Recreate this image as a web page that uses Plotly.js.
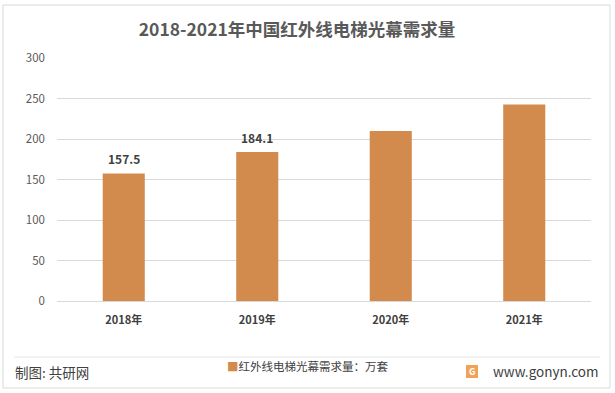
<!DOCTYPE html>
<html><head><meta charset="utf-8">
<script src="https://cdn.plot.ly/plotly-3.0.1.min.js"></script>
<style>html,body{margin:0;padding:0;background:#fff;}#chart{width:615px;height:393px;}</style>
</head><body><div id="chart"></div>
<script>
const categories = ['2018年', '2019年', '2020年', '2021年'];
const demand = [157.5, 184.1, 210.0, 242.5];
const labelShown = [true, true, false, false];
const seriesName = '红外线电梯光幕需求量：万套';
const yTicks = [0, 50, 100, 150, 200, 250, 300];

const FONT = '"Noto Sans CJK SC", "Liberation Sans", sans-serif';
const BAR = '#D38B4D';
const trace = {
  type: 'bar', x: categories, y: demand, name: seriesName,
  marker: {color: BAR}, hoverinfo: 'none'
};
const px = (v) => (v - 57) / 534;   // horizontal pixel -> paper
const py = (v) => (301 - v) / 243;  // vertical pixel -> paper

const dataLabels = categories.map((c, i) => labelShown[i] ? {
  text: '<b>' + demand[i].toFixed(1) + '</b>', xref: 'x', yref: 'y', x: c, y: demand[i],
  xanchor: 'center', yanchor: 'bottom', yshift: 4, showarrow: false,
  font: {family: FONT, size: 12, color: '#404040'}
} : null).filter(a => a);

const layout = {
  width: 615, height: 393,
  margin: {l: 57, r: 24, t: 58, b: 92},
  paper_bgcolor: '#fff', plot_bgcolor: '#fff',
  font: {family: FONT, color: '#595959'},
  title: {text: '<b>2018-2021年中国红外线电梯光幕需求量</b>', x: 0.483, xanchor: 'center', y: 0.925, yanchor: 'middle',
    font: {family: FONT, size: 17.5, color: '#595959'}},
  bargap: 0.685,
  xaxis: {type: 'category', showgrid: false, zeroline: false, showline: false, ticks: '',
    tickfont: {family: FONT, size: 11, color: '#404040'}, ticklabelstandoff: 11,
    tickvals: categories, ticktext: categories.map(c => '<b>' + c + '</b>')},
  yaxis: {range: [0, 300], tickvals: yTicks, showgrid: true, gridcolor: '#D9D9D9', gridwidth: 1,
    zeroline: true, zerolinecolor: '#D9D9D9', showline: false, ticks: '',
    tickfont: {family: FONT, size: 11.5, color: '#595959'}, ticklabelstandoff: 11},
  showlegend: false,
  shapes: [
    {type: 'rect', xref: 'paper', yref: 'paper', x0: px(3), x1: px(610), y0: py(388), y1: py(5),
      line: {color: '#D9D9D9', width: 1}, fillcolor: 'rgba(0,0,0,0)'},
    {type: 'line', xref: 'paper', yref: 'paper', x0: px(14), x1: px(600), y0: py(357), y1: py(357),
      line: {color: '#E6E6E6', width: 1}},
    {type: 'rect', xref: 'paper', yref: 'paper', x0: px(466), x1: px(478), y0: py(378), y1: py(365),
      line: {width: 0}, fillcolor: '#F2A256'}
  ],
  annotations: dataLabels.concat([
    {text: '<span style="color:' + BAR + '">■</span>' + seriesName, xref: 'paper', yref: 'paper', x: px(225), y: py(366),
      xanchor: 'left', yanchor: 'middle', showarrow: false, font: {family: FONT, size: 11.5, color: '#404040'}},
    {text: '制图: 共研网', xref: 'paper', yref: 'paper', x: px(13), y: py(372), xanchor: 'left', yanchor: 'middle',
      showarrow: false, font: {family: FONT, size: 13.5, color: '#404040'}},
    {text: '<b>G</b>', xref: 'paper', yref: 'paper', x: px(472), y: py(371.5), xanchor: 'center', yanchor: 'middle',
      showarrow: false, font: {family: FONT, size: 9, color: '#ffffff'}},
    {text: 'www.gonyn.com', xref: 'paper', yref: 'paper', x: px(601), y: py(371), xanchor: 'right', yanchor: 'middle',
      showarrow: false, font: {family: FONT, size: 13.5, color: '#404040'}}
  ])
};
Plotly.newPlot('chart', [trace], layout, {displayModeBar: false, staticPlot: true});
</script></body></html>
